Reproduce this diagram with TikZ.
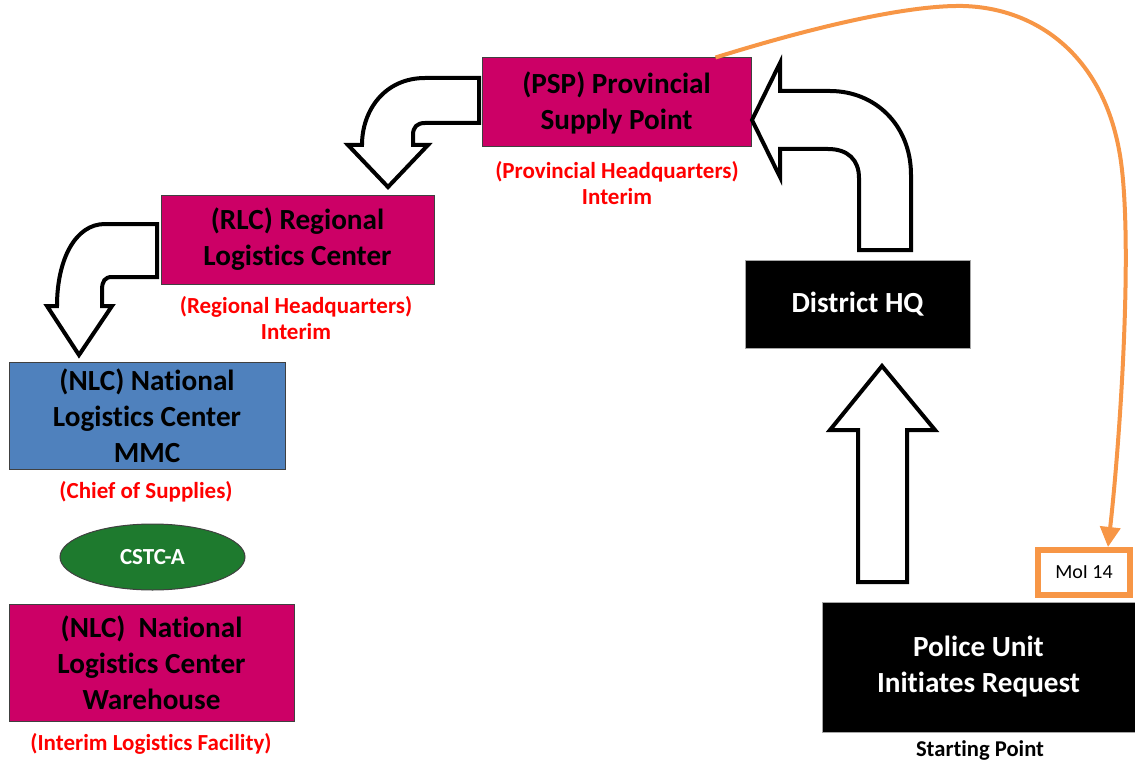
\documentclass[tikz,border=0pt]{standalone}
\usepackage{fontspec}
\setmainfont{Carlito}[Ligatures=NoCommon]
\usepackage{tikz}
\usetikzlibrary{arrows.meta,shapes.geometric}
\definecolor{magbox}{HTML}{CC0066}
\definecolor{mmcblue}{HTML}{4F81BD}
\definecolor{cstcgreen}{HTML}{1E7A2E}
\definecolor{moiorange}{HTML}{F79646}
\newcommand\boxtxt{\fontsize{14.6}{18}\selectfont\bfseries}
\newcommand\tagtxt{\fontsize{11.5}{13}\selectfont\bfseries}
\tikzset{
  unit/.style={rectangle, draw=black!75, line width=0.5pt, inner sep=0pt,
               align=center, font=\boxtxt},
  hq/.style={unit, fill=magbox},                                   % magenta depot
  blk/.style={unit, fill=black, draw=black!35, text=white},        % field level
  tag/.style={text=red, font=\tagtxt, align=center, inner sep=0pt},
  barrow/.style={draw=black, fill=white, line width=2pt},          % block arrow
  req/.style={draw=moiorange, line width=2pt,
              -{Triangle[length=10pt,width=10pt]}},               % request line
}

\begin{document}
\begin{tikzpicture}[x=0.5pt, y=-0.5pt]
  \useasboundingbox (0,0) rectangle (1135,765);
  % depots
  \node[hq, minimum width=134.5pt, minimum height=44.5pt] (psp) at (616.5,102.5)
    {(PSP) Provincial\\Supply Point};
  \node[tag] (psptag) at (617,183) {(Provincial Headquarters)\\Interim};
  \node[hq, minimum width=136.5pt, minimum height=44.5pt] (rlc) at (297.5,239.5)
    {(RLC) Regional\\Logistics Center};
  \node[tag] (rlctag) at (296,318) {(Regional Headquarters)\\Interim};
  \node[unit, fill=mmcblue, minimum width=138pt, minimum height=53.5pt] (mmc) at (147,415.5)
    {(NLC) National\\Logistics Center\\MMC};
  \node[tag] (mmctag) at (146,492) {(Chief of Supplies)};
  \node[ellipse, draw=black!75, line width=0.5pt, fill=cstcgreen, text=white,
        minimum width=92.5pt, minimum height=33pt, inner sep=0pt,
        font=\fontsize{11.5}{13}\selectfont\bfseries] (cstc) at (152.5,557) {CSTC-A};
  \node[hq, minimum width=142.5pt, minimum height=58.5pt] (nlc) at (151.5,662.5)
    {(NLC)\ \ National\\Logistics Center\\Warehouse};
  \node[tag] (nlctag) at (151,744) {(Interim Logistics Facility)};
  % field side
  \node[blk, minimum width=112.5pt, minimum height=44pt] (dhq) at (857.5,304) {District HQ};
  \node[blk, minimum width=156.5pt, minimum height=65pt] (pu) at (978.5,667)
    {Police Unit\\Initiates Request};
  \node[font=\fontsize{11.3}{13}\selectfont\bfseries, inner sep=0pt] (start) at (980,750) {Starting Point};
  \node[rectangle, draw=moiorange, line width=3pt, fill=white, minimum width=46pt,
        minimum height=22.5pt, font=\fontsize{10}{12}\selectfont] (moi) at (1084,572.5) {MoI 14};

  % block arrows
  \draw[barrow] (858,582) -- (858,430) -- (830,430) -- (882,366) -- (935,430)
    -- (907,430) -- (907,582) -- cycle;
  \draw[barrow] (911,250) -- (911,175) .. controls (911,125) and (875,91) .. (830,91)
    -- (780,91) -- (780,63) -- (752,120) -- (780,177) -- (780,149) -- (828,149)
    .. controls (848,149) and (859,160) .. (859,178) -- (859,250) -- cycle;
  \draw[barrow] (479,78) -- (425,78) .. controls (385,78) and (362,110) .. (362,145)
    -- (348,145) -- (388,187) -- (428,145) -- (413,145) -- (413,135)
    .. controls (413,127) and (417,123) .. (425,123) -- (479,123) -- cycle;
  \draw[barrow] (157,224) -- (105,224) .. controls (75,224) and (57,260) .. (57,306)
    -- (47,306) -- (79,355) -- (112,306) -- (102,306) -- (102,290)
    .. controls (102,281) and (105,277) .. (112,277) -- (157,277) -- cycle;

  % request path
  \draw[req] ([xshift=-18pt]psp.north east) .. controls (820,25) and (910,5) .. (963,6)
    .. controls (1040,8) and (1110,60) .. (1122,170)
    .. controls (1132,260) and (1120,440) .. ([xshift=12pt]moi.north);
\end{tikzpicture}
\end{document}
